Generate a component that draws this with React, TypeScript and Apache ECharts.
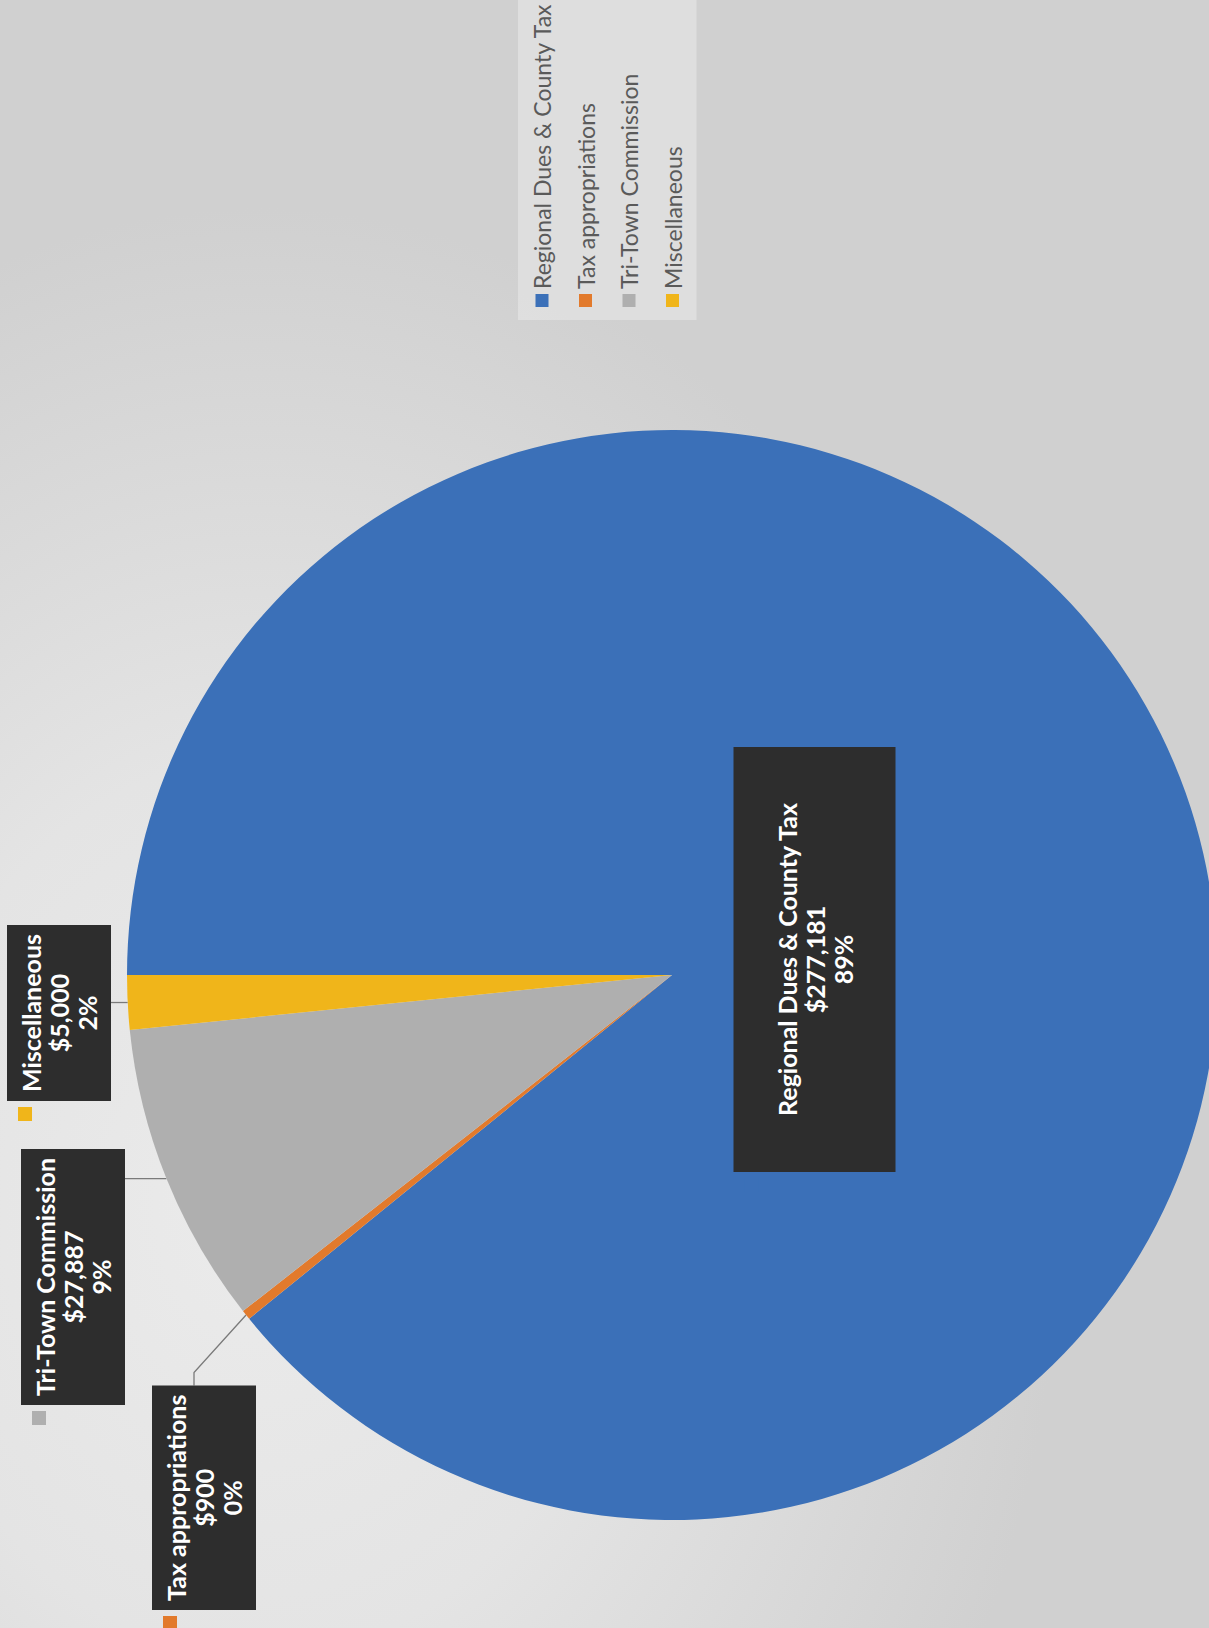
import React, { useEffect, useRef } from "react";
import * as echarts from "echarts";

// ---- data ----
const categories = [
  "Regional Dues & County Tax",
  "Tax appropriations",
  "Tri-Town Commission",
  "Miscellaneous",
];
const amounts = [277181, 900, 27887, 5000];
const sliceColors = ["#3b70b8", "#e27a2c", "#afafaf", "#f0b51a"];

// page and (unrotated) chart frame
const PAGE_W = 1209;
const PAGE_H = 1628;
const CW = 1628;
const CH = 1209;

export default function App() {
  const ref = useRef<HTMLDivElement>(null);

  useEffect(() => {
    const el = ref.current as HTMLDivElement;
    const chart = echarts.init(el, null, { renderer: "svg", width: CW, height: CH });

    const cx = 653;
    const cy = 672;
    const R = 545;

    // label box placement (layout only)
    const bigBox = { cx: 668.5, cy: 814.5, w: 425, h: 162 };
    const boxLT: number[][] = [
      [bigBox.cx - bigBox.w / 2, bigBox.cy - bigBox.h / 2],
      [18, 152],
      [223, 21],
      [527, 7],
    ];

    const total = amounts.reduce((a, b) => a + b, 0);
    const midAngles: number[] = [];
    let acc = 0;
    amounts.forEach((v) => {
      midAngles.push(((acc + v / 2) / total) * Math.PI * 2);
      acc += v;
    });

    const mainData = categories.map((name, i) => {
      const d: any = { name, value: amounts[i], itemStyle: { color: sliceColors[i] } };
      if (i === 0) {
        d.label = { width: 407, padding: [39, 9] };
        d.labelLine = { show: false };
      }
      return d;
    });

    const keyData = categories.map((name, i) => ({
      name,
      value: amounts[i],
      itemStyle: { color: "rgba(0,0,0,0)" },
      label: { backgroundColor: sliceColors[i] },
    }));

    chart.setOption({
      animation: false,
      backgroundColor: "transparent",
      legend: {
        orient: "vertical",
        left: 1308,
        top: 518,
        padding: [12, 30, 12, 13],
        backgroundColor: "rgba(236,236,236,0.5)",
        itemWidth: 13,
        itemHeight: 13,
        itemGap: 19.5,
        icon: "rect",
        selectedMode: false,
        textStyle: { fontFamily: "Lato", fontSize: 23, color: "#5a5a5a", lineHeight: 24 },
        data: categories,
      },
      series: [
        {
          type: "pie",
          center: [cx, cy],
          radius: R,
          startAngle: 90,
          clockwise: true,
          avoidLabelOverlap: false,
          itemStyle: { borderWidth: 0 },
          data: mainData,
          label: {
            show: true,
            position: "outside",
            formatter: (p: any) =>
              `${p.name}\n$${Number(p.value).toLocaleString("en-US")}\n${Math.round(p.percent)}%`,
            color: "#ffffff",
            fontFamily: "Lato",
            fontWeight: "bold",
            fontSize: 25,
            lineHeight: 28,
            align: "center",
            backgroundColor: "#2d2d2d",
            padding: [10, 9],
          },
          labelLine: {
            show: true,
            length: 20,
            length2: 10,
            smooth: false,
            lineStyle: { color: "#7a7a7a", width: 1.3 },
          },
          labelLayout: (p: any) => {
            const w = p.labelRect.width;
            const h = p.labelRect.height;
            const [l, t] = boxLT[p.dataIndex];
            const res: any = { x: l + w / 2, y: t + h / 2, align: "center", verticalAlign: "middle" };
            if (p.dataIndex !== 0) {
              const a = midAngles[p.dataIndex];
              const px = cx + R * Math.sin(a);
              const py = cy - R * Math.cos(a);
              const bottom = t + h;
              const right = l + w;
              if (px >= l && px <= right) {
                res.labelLinePoints = [[px, py], [px, bottom + 3], [px, bottom]];
              } else {
                res.labelLinePoints = [[px, py], [right + 13, t + h / 2 - 10], [right, t + h / 2 - 10]];
              }
            }
            return res;
          },
        },
        {
          type: "pie",
          center: [cx, cy],
          radius: R,
          startAngle: 90,
          clockwise: true,
          silent: true,
          avoidLabelOverlap: false,
          itemStyle: { borderWidth: 0 },
          data: keyData,
          label: {
            show: true,
            position: "outside",
            formatter: " ",
            width: 14,
            height: 14,
            padding: 0,
            fontSize: 10,
            lineHeight: 14,
          },
          labelLine: { show: false },
          labelLayout: (p: any) => {
            const [l, t] = boxLT[p.dataIndex];
            return { x: l - 20, y: t + 11, align: "left", verticalAlign: "top" };
          },
        },
      ],
    });

    return () => chart.dispose();
  }, []);

  return (
    <div
      style={{
        position: "fixed",
        left: 0,
        top: 0,
        width: PAGE_W,
        height: PAGE_H,
        overflow: "hidden",
        background: "#d2d2d2",
      }}
    >
      <div
        ref={ref}
        style={{
          position: "absolute",
          left: 0,
          top: 0,
          width: CW,
          height: CH,
          transformOrigin: "0 0",
          transform: `translate(0px, ${CW}px) rotate(-90deg)`,
          background:
            "radial-gradient(ellipse 1000px 800px at 420px 260px, #ebebeb 0%, #e4e4e4 45%, #d0d0d0 100%)",
        }}
      />
    </div>
  );
}
